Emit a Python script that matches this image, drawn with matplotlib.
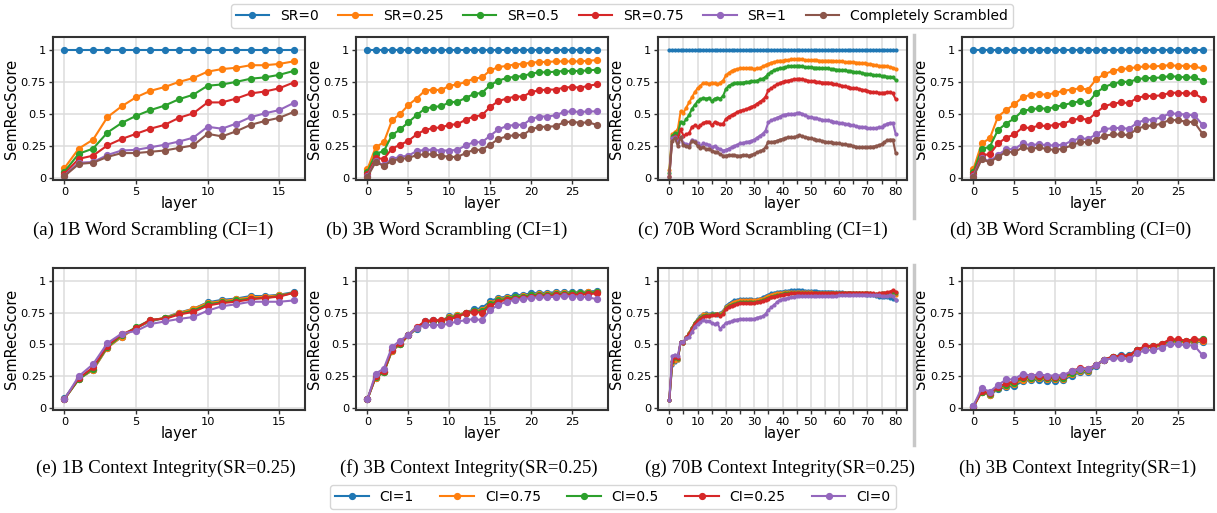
import matplotlib.pyplot as plt
from matplotlib.lines import Line2D
from matplotlib.ticker import MultipleLocator

# ---------------- data ----------------
sr_labels = ['SR=0', 'SR=0.25', 'SR=0.5', 'SR=0.75', 'SR=1', 'Completely Scrambled']
ci_labels = ['CI=1', 'CI=0.75', 'CI=0.5', 'CI=0.25', 'CI=0']

# (a) 1B word scrambling, CI=1  (layers 0..16)
a_sr025 = [0.078, 0.23, 0.30, 0.475, 0.56, 0.63, 0.68, 0.71, 0.75, 0.78, 0.83, 0.85, 0.86, 0.88, 0.88, 0.89, 0.91]
a_sr05 = [0.05, 0.19, 0.23, 0.355, 0.43, 0.485, 0.53, 0.565, 0.615, 0.65, 0.72, 0.73, 0.75, 0.775, 0.785, 0.805, 0.835]
a_sr075 = [0.035, 0.15, 0.175, 0.255, 0.305, 0.345, 0.385, 0.415, 0.47, 0.505, 0.59, 0.59, 0.62, 0.66, 0.675, 0.70, 0.745]
a_sr1 = [0.02, 0.12, 0.125, 0.18, 0.215, 0.22, 0.24, 0.26, 0.285, 0.315, 0.40, 0.385, 0.425, 0.475, 0.505, 0.53, 0.585]
a_scr = [0.015, 0.11, 0.12, 0.165, 0.195, 0.195, 0.205, 0.215, 0.235, 0.255, 0.345, 0.325, 0.365, 0.415, 0.445, 0.47, 0.515]

# (b) 3B word scrambling, CI=1  (layers 0..28)
b_sr025 = [0.07, 0.24, 0.28, 0.45, 0.50, 0.57, 0.62, 0.68, 0.69, 0.685, 0.72, 0.73, 0.75, 0.775, 0.785,
           0.84, 0.865, 0.875, 0.885, 0.89, 0.90, 0.905, 0.905, 0.91, 0.91, 0.91, 0.91, 0.915, 0.92]
b_sr05 = [0.05, 0.19, 0.21, 0.335, 0.38, 0.435, 0.49, 0.54, 0.555, 0.56, 0.59, 0.595, 0.625, 0.655, 0.665,
          0.725, 0.76, 0.78, 0.79, 0.795, 0.815, 0.825, 0.825, 0.83, 0.835, 0.835, 0.835, 0.84, 0.845]
b_sr075 = [0.03, 0.155, 0.15, 0.23, 0.26, 0.29, 0.34, 0.375, 0.39, 0.395, 0.415, 0.42, 0.455, 0.48, 0.49,
           0.555, 0.60, 0.62, 0.635, 0.635, 0.67, 0.685, 0.69, 0.69, 0.705, 0.71, 0.705, 0.72, 0.73]
b_sr1 = [0.02, 0.13, 0.10, 0.15, 0.165, 0.175, 0.21, 0.22, 0.22, 0.215, 0.215, 0.22, 0.255, 0.28, 0.28,
         0.33, 0.38, 0.405, 0.415, 0.415, 0.46, 0.48, 0.48, 0.49, 0.515, 0.52, 0.515, 0.52, 0.52]
b_scr = [0.01, 0.125, 0.095, 0.135, 0.15, 0.155, 0.18, 0.185, 0.185, 0.175, 0.165, 0.165, 0.195, 0.22, 0.22,
         0.26, 0.305, 0.325, 0.335, 0.335, 0.38, 0.40, 0.40, 0.405, 0.435, 0.44, 0.43, 0.435, 0.415]

# (c) 70B word scrambling, CI=1  (layers 0..80)
c_sr025 = [0.06, 0.34, 0.36, 0.38, 0.52, 0.51, 0.55, 0.59, 0.63, 0.67,
           0.70, 0.72, 0.74, 0.745, 0.735, 0.745, 0.74, 0.73, 0.745, 0.76,
           0.80, 0.82, 0.835, 0.845, 0.85, 0.855, 0.855, 0.855, 0.855, 0.855,
           0.85, 0.855, 0.86, 0.87, 0.88, 0.89, 0.90, 0.905, 0.91, 0.915,
           0.915, 0.92, 0.92, 0.925, 0.925, 0.925, 0.925, 0.925, 0.92, 0.92,
           0.92, 0.92, 0.92, 0.915, 0.915, 0.915, 0.915, 0.915, 0.91, 0.91,
           0.91, 0.91, 0.905, 0.905, 0.905, 0.905, 0.90, 0.90, 0.895, 0.895,
           0.89, 0.89, 0.885, 0.88, 0.875, 0.875, 0.87, 0.87, 0.865, 0.86, 0.85]
c_sr05 = [0.04, 0.33, 0.35, 0.34, 0.44, 0.43, 0.46, 0.49, 0.54, 0.57,
          0.60, 0.615, 0.625, 0.62, 0.625, 0.60, 0.62, 0.625, 0.62, 0.64,
          0.695, 0.72, 0.73, 0.74, 0.745, 0.745, 0.745, 0.75, 0.75, 0.755,
          0.755, 0.76, 0.77, 0.775, 0.79, 0.81, 0.83, 0.84, 0.85, 0.855,
          0.86, 0.865, 0.87, 0.87, 0.875, 0.875, 0.875, 0.87, 0.865, 0.865,
          0.865, 0.86, 0.86, 0.86, 0.855, 0.855, 0.855, 0.85, 0.85, 0.845,
          0.845, 0.84, 0.84, 0.835, 0.835, 0.83, 0.825, 0.825, 0.82, 0.815,
          0.81, 0.81, 0.805, 0.80, 0.80, 0.795, 0.795, 0.79, 0.79, 0.785, 0.765]
c_sr075 = [0.02, 0.31, 0.33, 0.31, 0.38, 0.33, 0.34, 0.35, 0.40, 0.41,
           0.40, 0.41, 0.43, 0.44, 0.44, 0.41, 0.435, 0.43, 0.42, 0.425,
           0.46, 0.48, 0.49, 0.50, 0.515, 0.525, 0.53, 0.535, 0.545, 0.555,
           0.565, 0.58, 0.595, 0.61, 0.635, 0.685, 0.70, 0.715, 0.73, 0.74,
           0.75, 0.755, 0.76, 0.765, 0.77, 0.77, 0.775, 0.77, 0.765, 0.76,
           0.755, 0.755, 0.75, 0.75, 0.745, 0.745, 0.745, 0.74, 0.735, 0.73,
           0.725, 0.72, 0.715, 0.71, 0.705, 0.70, 0.70, 0.695, 0.69, 0.685,
           0.68, 0.675, 0.67, 0.67, 0.665, 0.665, 0.665, 0.67, 0.67, 0.66, 0.615]
c_sr1 = [0.01, 0.31, 0.32, 0.28, 0.32, 0.27, 0.265, 0.26, 0.30, 0.29,
         0.27, 0.25, 0.27, 0.265, 0.26, 0.24, 0.25, 0.235, 0.225, 0.215,
         0.22, 0.23, 0.24, 0.25, 0.26, 0.27, 0.275, 0.28, 0.285, 0.29,
         0.30, 0.315, 0.33, 0.345, 0.37, 0.435, 0.45, 0.46, 0.47, 0.48,
         0.49, 0.495, 0.50, 0.50, 0.50, 0.505, 0.51, 0.50, 0.49, 0.48,
         0.475, 0.47, 0.465, 0.46, 0.455, 0.45, 0.45, 0.445, 0.44, 0.435,
         0.43, 0.43, 0.425, 0.42, 0.415, 0.41, 0.405, 0.40, 0.40, 0.395,
         0.39, 0.39, 0.39, 0.39, 0.395, 0.40, 0.41, 0.425, 0.43, 0.43, 0.345]
c_scr = [0.01, 0.29, 0.31, 0.25, 0.32, 0.255, 0.25, 0.245, 0.29, 0.28,
         0.25, 0.235, 0.24, 0.225, 0.23, 0.215, 0.205, 0.20, 0.185, 0.175,
         0.175, 0.18, 0.18, 0.18, 0.175, 0.175, 0.18, 0.18, 0.175, 0.18,
         0.19, 0.20, 0.21, 0.22, 0.24, 0.285, 0.28, 0.285, 0.29, 0.30,
         0.305, 0.31, 0.32, 0.32, 0.32, 0.325, 0.335, 0.325, 0.32, 0.315,
         0.31, 0.305, 0.30, 0.295, 0.29, 0.285, 0.28, 0.28, 0.275, 0.275,
         0.27, 0.265, 0.265, 0.26, 0.255, 0.25, 0.245, 0.24, 0.24, 0.24,
         0.24, 0.245, 0.245, 0.25, 0.255, 0.265, 0.28, 0.295, 0.30, 0.30, 0.195]

# (d) 3B word scrambling, CI=0  (layers 0..28)
d_sr025 = [0.07, 0.27, 0.31, 0.48, 0.53, 0.575, 0.63, 0.65, 0.655, 0.65, 0.665, 0.68, 0.69, 0.70, 0.69,
           0.77, 0.81, 0.835, 0.85, 0.855, 0.865, 0.87, 0.87, 0.875, 0.88, 0.875, 0.875, 0.87, 0.855]
d_sr05 = [0.05, 0.225, 0.245, 0.375, 0.425, 0.465, 0.525, 0.535, 0.545, 0.54, 0.555, 0.57, 0.585, 0.60, 0.585,
          0.665, 0.71, 0.735, 0.75, 0.75, 0.77, 0.78, 0.78, 0.785, 0.795, 0.79, 0.785, 0.785, 0.76]
d_sr075 = [0.03, 0.18, 0.185, 0.27, 0.315, 0.34, 0.395, 0.39, 0.41, 0.405, 0.415, 0.425, 0.45, 0.465, 0.455,
           0.51, 0.56, 0.58, 0.59, 0.585, 0.625, 0.64, 0.64, 0.645, 0.665, 0.665, 0.66, 0.66, 0.62]
d_sr1 = [0.02, 0.155, 0.13, 0.18, 0.225, 0.225, 0.27, 0.255, 0.265, 0.255, 0.255, 0.26, 0.29, 0.31, 0.305,
         0.34, 0.38, 0.39, 0.39, 0.385, 0.43, 0.455, 0.455, 0.475, 0.505, 0.50, 0.495, 0.49, 0.415]
d_scr = [0.01, 0.145, 0.125, 0.165, 0.205, 0.20, 0.24, 0.225, 0.24, 0.225, 0.22, 0.23, 0.255, 0.28, 0.28,
         0.30, 0.33, 0.34, 0.34, 0.335, 0.385, 0.405, 0.41, 0.425, 0.455, 0.45, 0.44, 0.435, 0.345]

# (e) 1B context integrity, SR=0.25
e_ci075 = [0.07, 0.23, 0.30, 0.475, 0.56, 0.63, 0.685, 0.71, 0.745, 0.78, 0.825, 0.84, 0.855, 0.87, 0.875, 0.885, 0.905]
e_ci05 = [0.07, 0.225, 0.31, 0.48, 0.57, 0.635, 0.69, 0.705, 0.74, 0.765, 0.815, 0.83, 0.845, 0.86, 0.865, 0.88, 0.905]
e_ci025 = [0.07, 0.235, 0.32, 0.49, 0.58, 0.625, 0.695, 0.70, 0.735, 0.755, 0.805, 0.825, 0.835, 0.855, 0.865, 0.875, 0.905]
e_ci0 = [0.07, 0.25, 0.345, 0.51, 0.585, 0.605, 0.66, 0.68, 0.70, 0.715, 0.765, 0.80, 0.815, 0.835, 0.835, 0.835, 0.845]

# (f) 3B context integrity, SR=0.25
f_ci075 = [0.07, 0.24, 0.28, 0.45, 0.50, 0.57, 0.625, 0.675, 0.685, 0.685, 0.715, 0.73, 0.75, 0.765, 0.77,
           0.825, 0.855, 0.865, 0.875, 0.88, 0.89, 0.895, 0.895, 0.90, 0.90, 0.905, 0.905, 0.91, 0.91]
f_ci05 = [0.07, 0.245, 0.28, 0.455, 0.505, 0.575, 0.63, 0.675, 0.685, 0.685, 0.71, 0.725, 0.745, 0.76, 0.76,
          0.815, 0.845, 0.86, 0.87, 0.875, 0.885, 0.89, 0.89, 0.895, 0.895, 0.90, 0.90, 0.905, 0.91]
f_ci025 = [0.07, 0.25, 0.29, 0.46, 0.51, 0.575, 0.635, 0.68, 0.69, 0.69, 0.70, 0.715, 0.745, 0.755, 0.75,
           0.80, 0.835, 0.85, 0.86, 0.865, 0.875, 0.88, 0.88, 0.885, 0.89, 0.89, 0.89, 0.895, 0.90]

# (g) 70B context integrity, SR=0.25
g_ci075 = [0.065, 0.35, 0.37, 0.38, 0.52, 0.51, 0.55, 0.59, 0.63, 0.67,
           0.695, 0.715, 0.735, 0.74, 0.73, 0.74, 0.74, 0.735, 0.74, 0.755,
           0.795, 0.81, 0.825, 0.835, 0.84, 0.845, 0.845, 0.845, 0.845, 0.845,
           0.845, 0.85, 0.855, 0.86, 0.87, 0.88, 0.89, 0.895, 0.90, 0.905,
           0.905, 0.91, 0.91, 0.91, 0.91, 0.91, 0.91, 0.91, 0.91, 0.91,
           0.91, 0.905, 0.905, 0.905, 0.905, 0.905, 0.905, 0.905, 0.905, 0.905,
           0.905, 0.90, 0.90, 0.90, 0.90, 0.90, 0.90, 0.90, 0.90, 0.90,
           0.90, 0.895, 0.895, 0.89, 0.89, 0.89, 0.885, 0.885, 0.89, 0.895, 0.89]
g_ci05 = [0.065, 0.36, 0.39, 0.385, 0.52, 0.515, 0.555, 0.585, 0.625, 0.665,
          0.69, 0.71, 0.725, 0.73, 0.725, 0.735, 0.735, 0.74, 0.73, 0.745,
          0.785, 0.80, 0.81, 0.815, 0.825, 0.83, 0.83, 0.83, 0.83, 0.83,
          0.83, 0.835, 0.84, 0.845, 0.855, 0.865, 0.875, 0.88, 0.885, 0.89,
          0.895, 0.90, 0.90, 0.905, 0.905, 0.905, 0.905, 0.905, 0.905, 0.905,
          0.90, 0.90, 0.90, 0.90, 0.90, 0.90, 0.90, 0.90, 0.90, 0.90,
          0.90, 0.90, 0.90, 0.90, 0.90, 0.90, 0.90, 0.90, 0.90, 0.90,
          0.90, 0.90, 0.895, 0.895, 0.895, 0.90, 0.90, 0.90, 0.905, 0.91, 0.905]
g_ci025 = [0.065, 0.37, 0.40, 0.39, 0.52, 0.515, 0.555, 0.58, 0.62, 0.66,
           0.685, 0.70, 0.715, 0.72, 0.72, 0.73, 0.73, 0.74, 0.72, 0.74,
           0.78, 0.795, 0.805, 0.81, 0.82, 0.825, 0.825, 0.825, 0.825, 0.825,
           0.825, 0.83, 0.835, 0.84, 0.85, 0.86, 0.87, 0.875, 0.88, 0.885,
           0.89, 0.895, 0.895, 0.90, 0.90, 0.90, 0.90, 0.90, 0.90, 0.90,
           0.90, 0.90, 0.90, 0.90, 0.90, 0.90, 0.90, 0.90, 0.90, 0.90,
           0.90, 0.905, 0.905, 0.905, 0.905, 0.905, 0.905, 0.905, 0.905, 0.905,
           0.905, 0.905, 0.90, 0.895, 0.90, 0.905, 0.905, 0.91, 0.915, 0.925, 0.915]
g_ci0 = [0.065, 0.41, 0.42, 0.41, 0.52, 0.52, 0.55, 0.56, 0.60, 0.64,
         0.66, 0.675, 0.69, 0.685, 0.68, 0.67, 0.66, 0.665, 0.62, 0.645,
         0.67, 0.675, 0.68, 0.69, 0.695, 0.70, 0.70, 0.70, 0.70, 0.70,
         0.70, 0.71, 0.715, 0.72, 0.74, 0.77, 0.79, 0.81, 0.83, 0.85,
         0.855, 0.86, 0.865, 0.87, 0.875, 0.88, 0.88, 0.88, 0.88, 0.88,
         0.88, 0.88, 0.88, 0.88, 0.88, 0.88, 0.88, 0.88, 0.88, 0.88,
         0.885, 0.885, 0.885, 0.885, 0.885, 0.89, 0.89, 0.89, 0.89, 0.89,
         0.885, 0.885, 0.885, 0.885, 0.885, 0.88, 0.88, 0.88, 0.885, 0.88, 0.85]

# (h) 3B context integrity, SR=1
h_ci075 = [0.01, 0.125, 0.105, 0.155, 0.175, 0.19, 0.22, 0.23, 0.235, 0.225, 0.23, 0.23, 0.265, 0.29, 0.295,
           0.335, 0.38, 0.40, 0.405, 0.405, 0.45, 0.475, 0.48, 0.495, 0.52, 0.52, 0.52, 0.525, 0.525]
h_ci05 = [0.01, 0.13, 0.11, 0.16, 0.185, 0.20, 0.235, 0.24, 0.245, 0.235, 0.24, 0.24, 0.275, 0.30, 0.30,
          0.34, 0.38, 0.40, 0.405, 0.41, 0.455, 0.48, 0.485, 0.50, 0.53, 0.53, 0.525, 0.535, 0.54]
h_ci025 = [0.01, 0.135, 0.115, 0.165, 0.195, 0.21, 0.245, 0.25, 0.25, 0.245, 0.245, 0.25, 0.29, 0.315, 0.31,
           0.34, 0.38, 0.405, 0.41, 0.41, 0.46, 0.485, 0.49, 0.505, 0.54, 0.54, 0.53, 0.54, 0.535]

# CI=1 runs at SR=0.25 are the SR=0.25 curves of the word-scrambling panels, etc.
panels = [
    ('(a) 1B Word Scrambling (CI=1)', 16, [None, a_sr025, a_sr05, a_sr075, a_sr1, a_scr]),
    ('(b) 3B Word Scrambling (CI=1)', 28, [None, b_sr025, b_sr05, b_sr075, b_sr1, b_scr]),
    ('(c) 70B Word Scrambling (CI=1)', 80, [None, c_sr025, c_sr05, c_sr075, c_sr1, c_scr]),
    ('(d) 3B Word Scrambling (CI=0)', 28, [None, d_sr025, d_sr05, d_sr075, d_sr1, d_scr]),
    ('(e) 1B Context Integrity(SR=0.25)', 16, [a_sr025, e_ci075, e_ci05, e_ci025, e_ci0]),
    ('(f) 3B Context Integrity(SR=0.25)', 28, [b_sr025, f_ci075, f_ci05, f_ci025, d_sr025]),
    ('(g) 70B Context Integrity(SR=0.25)', 80, [c_sr025, g_ci075, g_ci05, g_ci025, g_ci0]),
    ('(h) 3B Context Integrity(SR=1)', 28, [b_sr1, h_ci075, h_ci05, h_ci025, d_sr1]),
]

# ---------------- layout ----------------
W, H = 1217, 513
fig = plt.figure(figsize=(W / 100, H / 100), dpi=100)


def px_box(x0, x1, y0, y1):
    return [x0 / W, 1 - y1 / H, (x1 - x0) / W, (y1 - y0) / H]


cols = [(53, 305), (356, 608), (658, 907), (962, 1214)]
rows = [(37, 180), (268, 410)]
caption_x = [[153, 447, 763, 1071], [166, 469, 780, 1078]]
caption_y = [230, 468]

colors = ['#1f77b4', '#ff7f0e', '#2ca02c', '#d62728', '#9467bd', '#8c564b']
handles_sr, handles_ci = [], []

for i, (caption, nlayers, series) in enumerate(panels):
    r, c = divmod(i, 4)
    ax = fig.add_axes(px_box(cols[c][0], cols[c][1], rows[r][0], rows[r][1]))
    layers = list(range(nlayers + 1))
    big = nlayers > 40
    ms = 2.0 if big else 4.2
    for k, ys in enumerate(series):
        if ys is None:
            ys = [1.0] * len(layers)
        line, = ax.plot(layers, ys, '-o', color=colors[k], lw=1.5, ms=ms,
                        label=(sr_labels if r == 0 else ci_labels)[k])
        if i == 0:
            handles_sr.append(line)
        if i == 4:
            handles_ci.append(line)
    ax.set_ylim(-0.015, 1.1)
    ax.set_xlim(-0.05 * nlayers, 1.05 * nlayers)
    ax.set_yticks([0, 0.25, 0.5, 0.75, 1])
    ax.set_yticklabels(['0', '0.25', '0.5', '0.75', '1'])
    if big:
        ax.xaxis.set_major_locator(MultipleLocator(10))
        ax.xaxis.set_minor_locator(MultipleLocator(5))
    else:
        ax.xaxis.set_major_locator(MultipleLocator(5))
    ax.grid(True, which='both', color='#dcdcdc', lw=1.1)
    ax.set_axisbelow(True)
    ax.tick_params(labelsize=8.2, length=3, width=1, color='#333333', pad=2)
    ax.tick_params(which='minor', length=3, width=1, color='#333333')
    for s in ax.spines.values():
        s.set_color('#333333')
        s.set_linewidth(1.5)
    ax.set_xlabel('layer', fontsize=10.5, labelpad=-0.5)
    ax.set_ylabel('SemRecScore', fontsize=10.5, labelpad=1)
    fig.text(caption_x[r][c] / W, 1 - caption_y[r] / H, caption, ha='center', va='center',
             fontsize=13.5, family='Liberation Serif')

# grey separators between column 3 and column 4
for y0, y1 in [(35, 218), (265, 445)]:
    fig.add_artist(Line2D([914 / W, 914 / W], [1 - y0 / H, 1 - y1 / H],
                          color='#c8c8c8', lw=2.5, transform=fig.transFigure))

fig.legend(handles=handles_sr, labels=sr_labels, ncol=6, loc='center',
           bbox_to_anchor=(622 / W, 1 - 16 / H), fontsize=10, frameon=True,
           handlelength=2.4, columnspacing=1.4, borderpad=0.35)
fig.legend(handles=handles_ci, labels=ci_labels, ncol=5, loc='center',
           bbox_to_anchor=(613 / W, 1 - 497 / H), fontsize=10, frameon=True,
           handlelength=2.4, columnspacing=1.9, borderpad=0.35)

fig.savefig('out.png', dpi=100)
